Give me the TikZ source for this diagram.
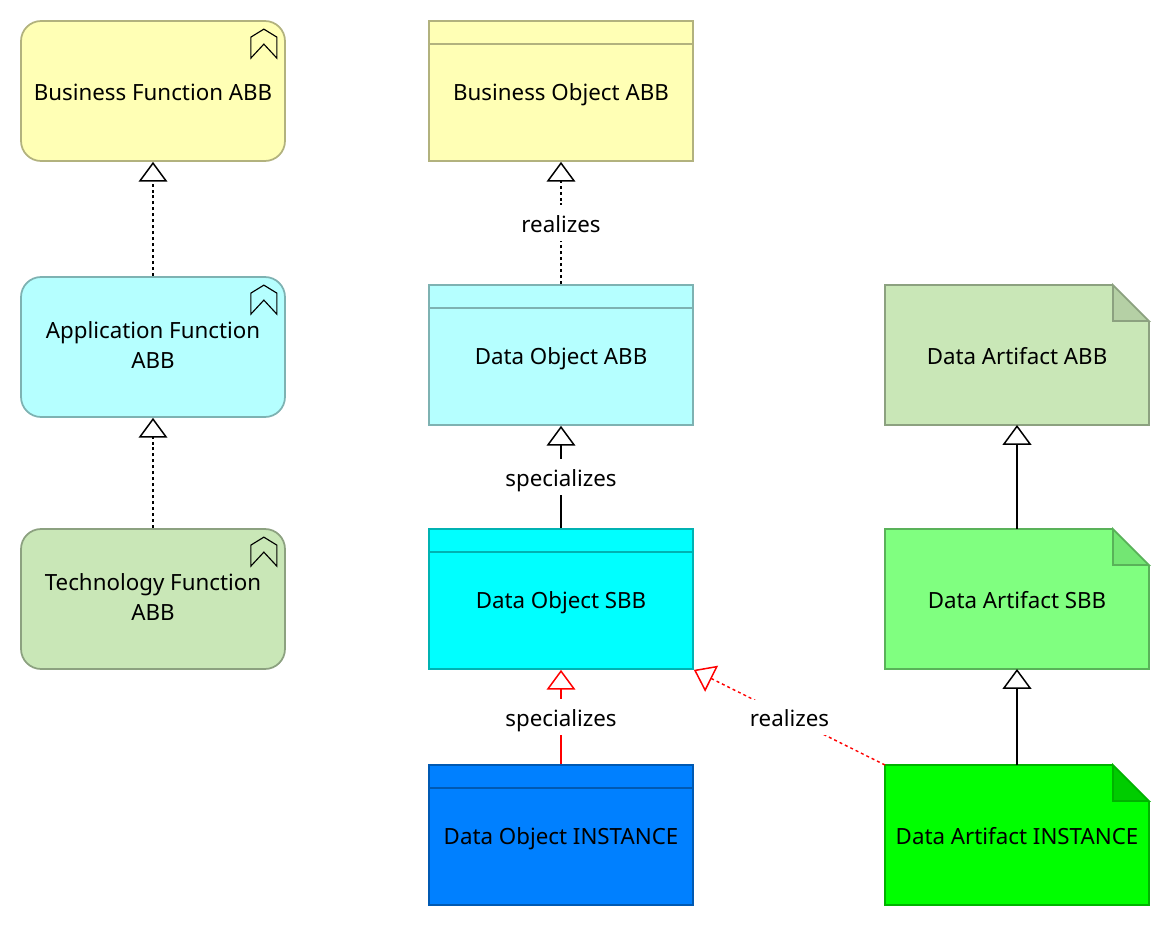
\documentclass[tikz,border=0pt]{standalone}
\usepackage{fontspec}
\usepackage{xcolor}
\setmainfont{Noto Sans}
\usetikzlibrary{arrows.meta}

\definecolor{busfill}{HTML}{FFFFB5}
\definecolor{busline}{HTML}{B2B27E}
\definecolor{appfill}{HTML}{B5FFFF}
\definecolor{appline}{HTML}{7EB2B2}
\definecolor{tecfill}{HTML}{C9E7B7}
\definecolor{tecline}{HTML}{8CA180}
\definecolor{tecfold}{HTML}{B5D0A5}
\definecolor{sbbfill}{HTML}{00FFFF}
\definecolor{sbbline}{HTML}{00B2B2}
\definecolor{insfill}{HTML}{0080FF}
\definecolor{insline}{HTML}{0059B2}
\definecolor{artfill}{HTML}{80FF80}
\definecolor{artline}{HTML}{59B259}
\definecolor{artfold}{HTML}{73E673}
\definecolor{gosfill}{HTML}{00FF00}
\definecolor{gosline}{HTML}{00B200}
\definecolor{gosfold}{HTML}{00CC00}

\newcommand{\capstrut}{\rule[-2.6pt]{0pt}{16pt}}

\tikzset{
  box/.style={rectangle,minimum width=5.28cm,minimum height=2.8cm,line width=1pt,
    align=center,font=\fontsize{12.7}{17}\selectfont,inner sep=0pt,
    execute at begin node=\capstrut,execute at end node=\capstrut},
  func/.style={box,rounded corners=.4cm},
  notebox/.style={box,outer sep=0pt},
  iconline/.style={line width=.65pt,line join=miter},
  hollow/.style={-{Triangle[open,length=11.3pt,width=16.4pt,line width=.85pt]},line width=.85pt},
  linked/.style={hollow,line width=.8pt,dash pattern=on 1.7pt off 1.7pt},
  tag/.style={midway,fill=white,font=\fontsize{12.7}{17}\selectfont,inner sep=0pt,minimum height=20pt,
    text=black,execute at begin node=\capstrut}
}

\newcommand{\funcicon}[1]{
  \draw[iconline] ([shift={(-35,38)}]#1.north east) -- ++(0,-21) -- ++(13,-8) -- ++(13,8) -- ++(0,21)
    -- ++(-13,-14) -- cycle;
}
\newcommand{\objhead}[2]{
  \draw[#2,line width=1pt] ([shift={(0,24)}]#1.north west) -- ([shift={(0,24)}]#1.north east);
}
\newcommand{\notefold}[3]{
  \fill[white] ([shift={(-36,0)}]#1.north east) -- (#1.north east) -- ([shift={(0,36)}]#1.north east) -- cycle;
  \draw[#2,fill=#3,line width=1pt] ([shift={(-36,0)}]#1.north east) -- ([shift={(-36,36)}]#1.north east)
    -- ([shift={(0,36)}]#1.north east) -- cycle;
  \draw[#2,line width=1pt] ([shift={(-36,0)}]#1.north east) -- (#1.north west) -- (#1.south west)
    -- (#1.south east) -- ([shift={(0,36)}]#1.north east);
}

\begin{document}
\begin{tikzpicture}[x=.02cm,y=-.02cm]
\useasboundingbox (0,0) rectangle (1170,926);

\node[func,fill=busfill,draw=busline] (busfunc) at (153,91) {Business Function ABB};
\node[func,fill=appfill,draw=appline] (appfunc) at (153,347) {Application Function\\ABB};
\node[func,fill=tecfill,draw=tecline] (tecfunc) at (153,599) {Technology Function\\ABB};
\funcicon{busfunc}
\funcicon{appfunc}
\funcicon{tecfunc}

\node[box,fill=busfill,draw=busline] (busobj) at (561,91) {Business Object ABB};
\node[box,fill=appfill,draw=appline] (dataabb) at (561,355) {Data Object ABB};
\node[box,fill=sbbfill,draw=sbbline] (datasbb) at (561,599) {Data Object SBB};
\node[box,fill=insfill,draw=insline] (datains) at (561,835) {Data Object INSTANCE};
\objhead{busobj}{busline}
\objhead{dataabb}{appline}
\objhead{datasbb}{sbbline}
\objhead{datains}{insline}

\node[notebox,fill=tecfill] (artabb) at (1017,355) {Data Artifact ABB};
\node[notebox,fill=artfill] (artsbb) at (1017,599) {Data Artifact SBB};
\node[notebox,fill=gosfill] (artins) at (1017,835) {Data Artifact INSTANCE};
\notefold{artabb}{tecline}{tecfold}
\notefold{artsbb}{artline}{artfold}
\notefold{artins}{gosline}{gosfold}

\draw[linked] (appfunc) -- (busfunc);
\draw[linked] (tecfunc) -- (appfunc);
\draw[linked] (dataabb) -- node[tag] {realizes} (busobj);
\draw[hollow] (datasbb) -- node[tag] {specializes} (dataabb);
\draw[hollow,red] (datains) -- node[tag] {specializes} (datasbb);
\draw[linked,red] (artins.north west) -- node[tag] {realizes} (datasbb.south east);
\draw[hollow] (artsbb) -- (artabb);
\draw[hollow] (artins) -- (artsbb);
\end{tikzpicture}
\end{document}
